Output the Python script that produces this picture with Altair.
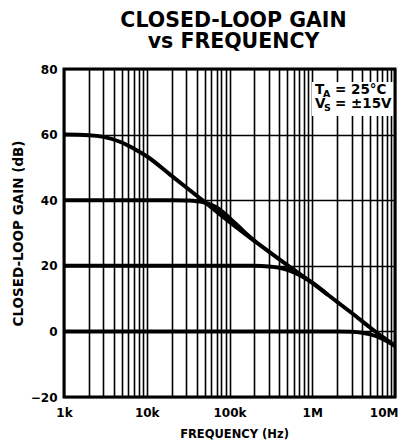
import altair as alt
import pandas as pd

# --- data -------------------------------------------------------------------
freq_60 = [1000, 2000, 3000, 5000, 7000, 10000, 20000, 44000, 100000, 200000,
           500000, 1000000, 2000000, 3000000, 5000000, 7000000, 10000000]
gain_60 = [60.0, 59.8, 59.3, 57.6, 55.7, 53.4, 47.4, 40.6, 33.4, 27.6,
           20.2, 14.8, 9.0, 5.6, 1.2, -1.6, -4.4]

freq_40 = [1000, 10000, 20000, 30000, 40000, 50000, 60000, 70000, 100000, 150000, 200000]
gain_40 = [40.0, 40.0, 40.0, 39.9, 39.7, 39.3, 38.6, 37.8, 34.6, 30.4, 27.6]

freq_20 = [1000, 100000, 200000, 300000, 400000, 500000, 700000, 1000000, 1500000]
gain_20 = [20.0, 20.0, 20.0, 19.8, 19.4, 18.8, 17.2, 14.9, 11.4]

freq_0 = [1000, 1000000, 2000000, 3000000, 4000000, 5000000, 7000000, 10000000]
gain_0 = [0.0, 0.0, 0.0, -0.1, -0.4, -0.9, -2.2, -4.4]

x_grid = [1000, 2000, 3000, 4000, 5000, 6000, 7000, 8000, 9000,
          10000, 20000, 30000, 40000, 50000, 60000, 70000, 80000, 90000,
          100000, 200000, 300000, 400000, 500000, 600000, 700000, 800000, 900000,
          1000000, 2000000, 3000000, 4000000, 5000000, 6000000, 7000000, 8000000, 9000000,
          10000000]
y_ticks = [-20, 0, 20, 40, 60, 80]

series = [("60", freq_60, gain_60), ("40", freq_40, gain_40),
          ("20", freq_20, gain_20), ("0", freq_0, gain_0)]
rows = []
for name, fs, gs in series:
    for f, g in zip(fs, gs):
        rows.append({"series": name, "f": f, "g": g})
df = pd.DataFrame(rows)

FONT = "DejaVu Sans"

label_expr = ("datum.value == 1000 ? '1k' : datum.value == 10000 ? '10k' : "
              "datum.value == 100000 ? '100k' : datum.value == 1000000 ? '1M' : "
              "datum.value == 10000000 ? '10M' : ''")

x = alt.X("f:Q", scale=alt.Scale(type="log", domain=[1000, 10000000], nice=False),
          axis=alt.Axis(values=x_grid, labelExpr=label_expr, title="FREQUENCY (Hz)",
                        labelPadding=10, labelFlush=False, labelOverlap=False,
                        labelAlign=alt.condition("datum.value == 10000000",
                                                 alt.value("right"), alt.value("center")),
                        labelOffset=alt.condition("datum.value == 10000000",
                                                  alt.value(3), alt.value(0)),
                        titleX=170, titleY=40, titleBaseline="alphabetic",
                        titleFontSize=11.5, titleAnchor="middle"))
y = alt.Y("g:Q", scale=alt.Scale(domain=[-20, 80], nice=False, zero=False),
          axis=alt.Axis(values=y_ticks, title="CLOSED-LOOP GAIN (dB)",
                        labelPadding=7, labelFlush=False,
                        titleX=-42, titleY=164, titleBaseline="alphabetic",
                        titleFontSize=13.5, titleAnchor="middle"))

lines = alt.Chart(df).mark_line(color="black", strokeWidth=4, interpolate="monotone",
                                strokeCap="round", clip=True).encode(
    x=x, y=y, detail="series:N")

one = alt.Data(values=[{"a": 1}])
box = alt.Chart(one).mark_rect(color="white").encode(
    x=alt.value(248), x2=alt.value(329), y=alt.value(13), y2=alt.value(47))

def txt(s, px, py, size=13.5):
    return alt.Chart(one).mark_text(text=s, align="left", baseline="alphabetic",
                                    font=FONT, fontWeight="bold", fontSize=size,
                                    color="black").encode(
        x=alt.value(px), y=alt.value(py))

texts = [
    txt("T", 251, 25), txt("A", 259, 28, 9.5), txt("= 25°C", 271, 25),
    txt("V", 251, 39), txt("S", 260, 42, 9.5), txt("= ±15V", 271, 39),
]

chart = alt.layer(lines, box, *texts).properties(
    width=331, height=328,
    autosize=alt.AutoSizeParams(type="none"),
    padding={"left": 56, "top": 61, "right": 4, "bottom": 46},
    title=alt.TitleParams(["CLOSED-LOOP GAIN", "vs FREQUENCY"], font=FONT,
                          fontSize=20.5, fontWeight="bold", color="black",
                          anchor="middle", frame="group", offset=11, dx=4,
                          lineHeight=21),
).configure_view(stroke="black", strokeWidth=3).configure_axis(
    domain=False, ticks=False, grid=True, gridColor="black", gridWidth=1.6,
    gridOpacity=1, labelFont=FONT, labelFontWeight="bold", labelFontSize=12,
    labelColor="black", titleFont=FONT, titleFontWeight="bold", titleColor="black",
)

chart.save("out.html", embed_options={"renderer": "svg", "actions": False})
